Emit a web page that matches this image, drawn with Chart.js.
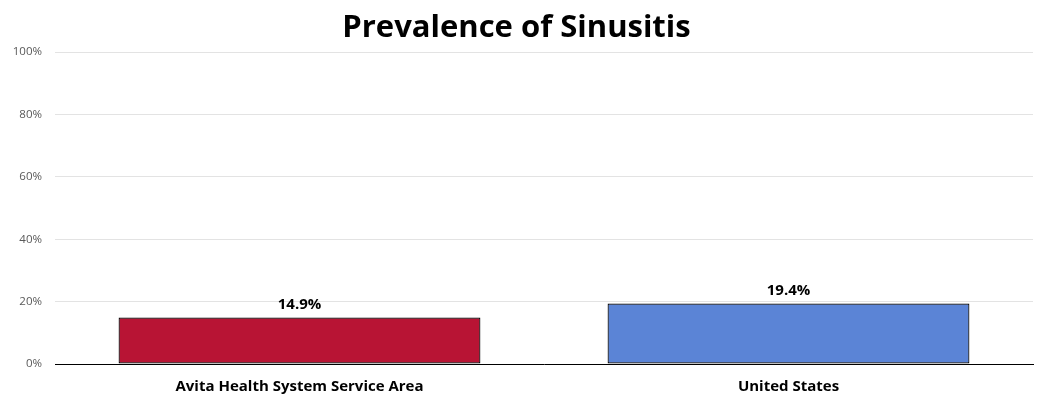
<!DOCTYPE html>
<html>
<head>
<meta charset="utf-8">
<script src="https://cdn.jsdelivr.net/npm/chart.js@4"></script>
<style>
    html, body { margin: 0; padding: 0; background: #fff; }
    #box { width: 1037px; height: 398px; }
</style>
</head>
<body>
<div id="box"><canvas id="barChart"></canvas></div>
<script>
// dados
const categorias = ["Avita Health System Service Area", "United States"];
const valores = [14.9, 19.4];
const coresBarras = ["#B81434", "#5B84D6"];
const ticksY = [0, 20, 40, 60, 80, 100];

const fonte = "'Open Sans', 'Noto Sans', sans-serif";

// rotulos acima das barras
const rotulosBarras = {
    id: "rotulosBarras",
    afterDatasetsDraw(chart) {
        const ctx = chart.ctx;
        const meta = chart.getDatasetMeta(0);
        ctx.save();
        ctx.font = "bold 15px " + fonte;
        ctx.fillStyle = "#000";
        ctx.textAlign = "center";
        ctx.textBaseline = "bottom";
        meta.data.forEach((barra, i) => {
            ctx.fillText(valores[i].toFixed(1) + "%", barra.x, barra.y - 5);
        });
        ctx.restore();
    }
};

new Chart(document.getElementById("barChart"), {
    type: "bar",
    data: {
        labels: categorias,
        datasets: [{
            data: valores,
            backgroundColor: coresBarras,
            borderColor: "#000",
            borderWidth: 1.2,
            borderSkipped: false,
            categoryPercentage: 0.74,
            barPercentage: 1
        }]
    },
    options: {
        responsive: true,
        maintainAspectRatio: false,
        animation: false,
        layout: { padding: { left: 0, right: 4, top: 0, bottom: 0 } },
        plugins: {
            legend: { display: false },
            tooltip: { enabled: false },
            title: {
                display: true,
                text: "Prevalence of Sinusitis",
                color: "#000",
                font: { family: fonte, size: 31, weight: "bold" },
                padding: { top: 10, bottom: 5 }
            }
        },
        scales: {
            y: {
                min: 0,
                max: 100,
                afterFit: s => { s.width = 55; },
                afterBuildTicks: s => { s.ticks = ticksY.map(v => ({ value: v })); },
                ticks: {
                    callback: v => v + "%",
                    color: "#595959",
                    font: { family: fonte, size: 11.5 },
                    padding: 13
                },
                grid: { color: "#e3e3e3", drawTicks: false },
                border: { display: false }
            },
            x: {
                afterFit: s => { s.height = 34; },
                ticks: {
                    color: "#000",
                    font: { family: fonte, size: 15, weight: "bold" },
                    padding: 14
                },
                grid: { display: false, drawTicks: false },
                border: { color: "#000", width: 1 }
            }
        }
    },
    plugins: [rotulosBarras]
});
</script>
</body>
</html>
